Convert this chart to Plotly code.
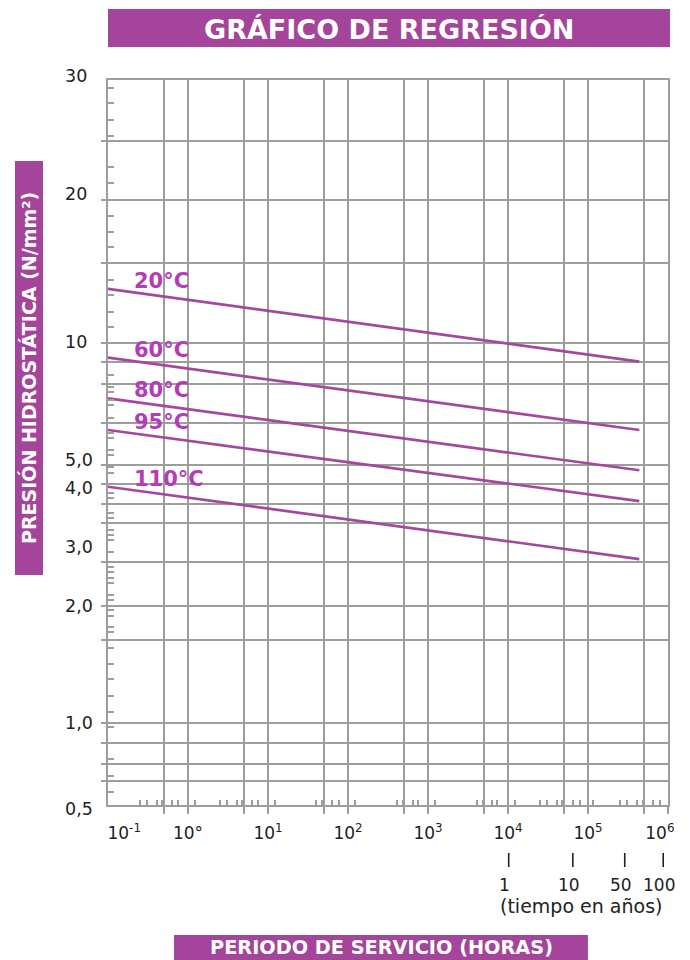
import numpy as np
import plotly.graph_objects as go

# ---------------- data ----------------
SERIES_NAMES = ["20°C", "60°C", "80°C", "95°C", "110°C"]
TIME_HOURS = [0.1, 4.38e5]                 # start / end of each regression line (h)
P_START = [13.0, 9.2, 7.3, 6.1, 3.95]      # N/mm² at 0.1 h
P_END = [9.0, 6.1, 4.7, 3.7, 2.76]         # N/mm² at 50 years

X_TICK_HOURS = [0.1, 1, 10, 100, 1e3, 1e4, 1e5, 1e6]
X_TICK_TEXT = ["\u00a0" * 6 + "10<sup>-1</sup>", "10°", "10<sup>1</sup>", "10<sup>2</sup>",
               "10<sup>3</sup>", "10<sup>4</sup>", "10<sup>5</sup>", "10<sup>6</sup>" + "\u00a0" * 3]

Y_TICK_VALUES = [0.5, 1, 2, 3, 4, 5, 10, 20, 30]
Y_TICK_TEXT = ["0,5", "1,0", "2,0", "3,0", "4,0", "5,0", "10", "20", "30"]

YEAR_LABELS = ["1", "10", "50", "100"]
YEAR_MARK_HOURS = [1.02e4, 6.46e4, 2.88e5, 8.71e5]   # as drawn on the chart

# ---------------- chart scale (the printed pressure scale is non-uniform) ----------------
Y_SCALE_POS = [0, 82, 199, 258, 321, 340, 462, 605, 725]   # axis units of each labelled value
Y_RANGE = [0, 725]
Y_LABEL_NUDGE = [-4, 0, 0, 0, -4, 5, 1, 6, 4]              # px, label offsets as printed


def to_axis(v):
    return np.interp(np.log10(np.asarray(v, dtype=float)), np.log10(Y_TICK_VALUES), Y_SCALE_POS)


GRID_Y_POS = [664, 605, 542, 462, 443, 421, 382, 340, 321, 301, 282, 243, 199, 165, 82, 62, 41, 24]
MINOR_Y_POS = [717, 702, 685, 669, 638, 622, 589, 573, 558, 525, 510, 493, 478, 430, 418, 413,
               405, 400, 387, 372, 367, 355, 350, 338, 332, 312, 307, 292, 287, 275, 270, 265,
               253, 238, 233, 227, 222, 210, 205, 195, 189, 178, 173, 157, 141, 126, 109, 93,
               78, 46, 29, 13]
GRID_X = [v * 10.0 ** n for n in range(-1, 6) for v in (5, 10)]
MINOR_X_LOG = [-0.6, -0.5125, -0.3875, -0.325, -0.2, -0.125, 0.0875,
               0.4, 0.4875, 0.6125, 0.675, 0.8, 0.875, 1.0875,
               1.6, 1.675, 1.8, 1.8875, 2.0875,
               2.6125, 2.6875, 2.8125, 2.875, 3.0875,
               3.6125, 3.6875, 3.8, 3.8625, 4.0875,
               4.4, 4.4875, 4.6125, 4.675, 4.8125, 4.9, 5.0625,
               5.4, 5.4875, 5.6125, 5.6875, 5.8125, 5.9]

GRID = "#9d9d9d"
LINE = "#a5479f"
LABEL = "#b43cb9"
BAR = "#a4449a"
TXT = "#222222"
FONT = "DejaVu Sans"

fig = go.Figure()

for name, p0, p1 in zip(SERIES_NAMES, P_START, P_END):
    fig.add_trace(go.Scatter(x=TIME_HOURS, y=to_axis([p0, p1]), mode="lines",
                             line=dict(color=LINE, width=2.7), name=name,
                             hoverinfo="skip", showlegend=False))

# helper traces so overlaid axes are drawn
for xa, ya in (("x2", "y"), ("x3", "y"), ("x", "y3")):
    fig.add_trace(go.Scatter(x=[1], y=[100], xaxis=xa, yaxis=ya, mode="markers",
                             marker=dict(opacity=0), hoverinfo="skip", showlegend=False))

fig.update_layout(
    width=690, height=960,
    margin=dict(l=108, r=22, t=80, b=155, autoexpand=False),
    plot_bgcolor="white", paper_bgcolor="white",
    font=dict(family=FONT, color=TXT, size=17),
    showlegend=False,
    xaxis=dict(type="log", range=[-1, 6], tickvals=GRID_X, showticklabels=False,
               ticks="outside", ticklen=7, tickwidth=2, tickcolor=GRID, automargin=False,
               showgrid=True, gridcolor=GRID, gridwidth=2,
               showline=True, linecolor=GRID, linewidth=2, mirror=True, zeroline=False),
    xaxis2=dict(type="log", range=[-1, 6], overlaying="x", anchor="y", side="bottom",
                tickvals=X_TICK_HOURS, ticktext=X_TICK_TEXT, ticks="", automargin=False,
                showgrid=False, showline=False, zeroline=False, ticklabeloverflow="allow",
                tickfont=dict(size=17, color=TXT), ticklabelstandoff=16),
    xaxis3=dict(type="log", range=[-1, 6], overlaying="x", anchor="y", side="bottom",
                tickvals=[10.0 ** v for v in MINOR_X_LOG], ticks="inside", ticklen=5,
                tickwidth=1.5, tickcolor=GRID, showticklabels=False, automargin=False,
                showgrid=False, showline=False, zeroline=False),
    yaxis=dict(range=Y_RANGE, tickvals=GRID_Y_POS, showticklabels=False,
               ticks="outside", ticklen=5, tickwidth=2, tickcolor=GRID, automargin=False,
               showgrid=True, gridcolor=GRID, gridwidth=2,
               showline=True, linecolor=GRID, linewidth=2, mirror=True, zeroline=False),
    yaxis3=dict(range=Y_RANGE, overlaying="y", anchor="x", side="left",
                tickvals=MINOR_Y_POS, ticks="inside", ticklen=6, tickwidth=1.5,
                tickcolor=GRID, showticklabels=False, automargin=False,
                showgrid=False, showline=False, zeroline=False),
)

shapes = [
    dict(type="rect", xref="paper", yref="paper", x0=0, x1=1.0036, y0=1.0455, y1=1.0979,
         fillcolor=BAR, line=dict(width=0), layer="above"),
    dict(type="rect", xref="paper", yref="paper", x0=-0.1661, x1=-0.1161, y0=0.3172, y1=0.8883,
         fillcolor=BAR, line=dict(width=0), layer="above"),
    dict(type="rect", xref="paper", yref="paper", x0=0.1179, x1=0.857, y0=-0.2138, y1=-0.1793,
         fillcolor=BAR, line=dict(width=0), layer="above"),
]
for h in YEAR_MARK_HOURS:
    shapes.append(dict(type="line", xref="x", yref="paper", x0=h, x1=h,
                       y0=-0.0662, y1=-0.0855, line=dict(color=TXT, width=1.6), layer="above"))
fig.update_layout(shapes=shapes)

ann = [
    dict(text="<b>GRÁFICO DE REGRESIÓN</b>", xref="paper", yref="paper", x=0.502, y=1.0703,
         xanchor="center", yanchor="middle", showarrow=False,
         font=dict(size=27, color="white", family=FONT)),
    dict(text="<b>PRESIÓN HIDROSTÁTICA (N/mm²)</b>", xref="paper", yref="paper", x=-0.141, y=0.6028,
         xanchor="center", yanchor="middle", showarrow=False, textangle=-90,
         font=dict(size=19, color="white", family=FONT)),
    dict(text="<b>PERIODO DE SERVICIO (HORAS)</b>", xref="paper", yref="paper", x=0.4875, y=-0.1972,
         xanchor="center", yanchor="middle", showarrow=False,
         font=dict(size=19.3, color="white", family=FONT)),
    dict(text="(tiempo en años)", xref="paper", yref="paper", x=0.8446, y=-0.1393,
         xanchor="center", yanchor="middle", showarrow=False,
         font=dict(size=19, color=TXT, family=FONT)),
]
# y tick labels: left-aligned as printed
for val, txt, nudge in zip(Y_TICK_VALUES, Y_TICK_TEXT, Y_LABEL_NUDGE):
    ann.append(dict(text=txt, xref="paper", yref="y", x=-0.0795, y=float(to_axis(val)),
                    yshift=nudge, xanchor="left", yanchor="middle", showarrow=False,
                    font=dict(size=17.5, color=TXT, family=FONT)))
for lab, h in zip(YEAR_LABELS, YEAR_MARK_HOURS):
    ann.append(dict(text=lab, xref="x", yref="paper", x=np.log10(h), y=-0.1103, xshift=-4,
                    xanchor="center", yanchor="middle", showarrow=False,
                    font=dict(size=17, color=TXT, family=FONT)))
for name, p0 in zip(SERIES_NAMES, P_START):
    ann.append(dict(text="<b>" + name + "</b>", xref="x", yref="y",
                    x=np.log10(TIME_HOURS[0]), y=float(to_axis(p0)),
                    xanchor="left", yanchor="middle", xshift=24, yshift=8, showarrow=False,
                    font=dict(size=21, color=LABEL, family=FONT)))
fig.update_layout(annotations=ann)

# remove the default 8 px page margin so the figure sits at the window's corner
fig.write_html("out.html", config={"displayModeBar": False},
               post_script="document.body.style.margin='0';document.body.style.overflow='hidden';")
